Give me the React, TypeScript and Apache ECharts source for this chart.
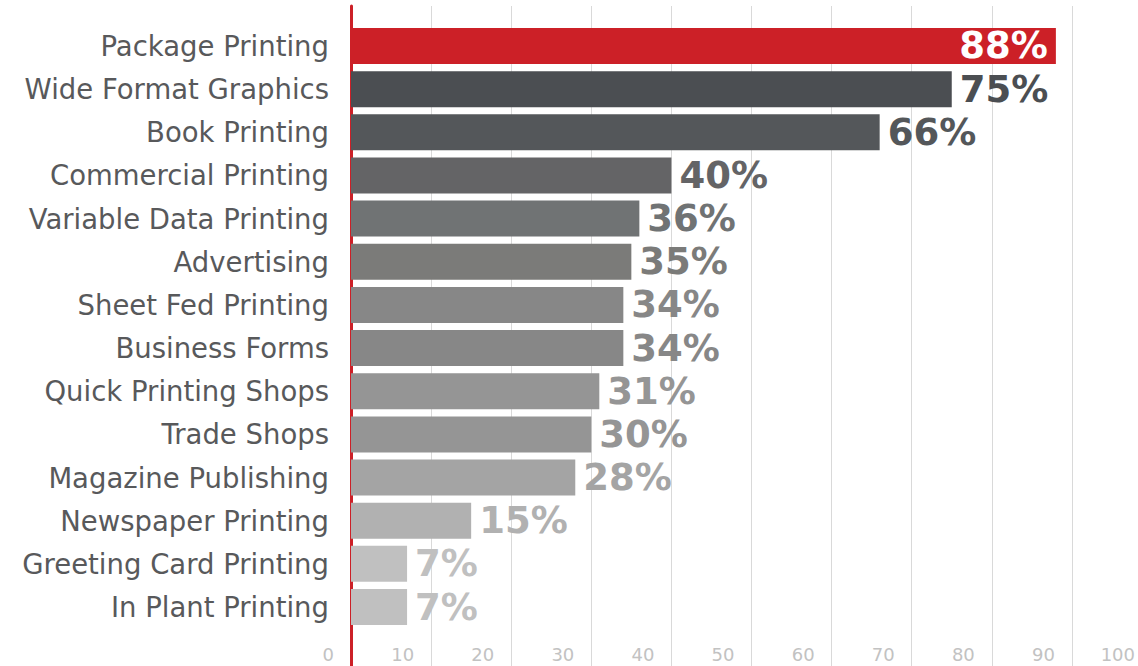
import React, { useEffect, useRef } from "react";
import * as echarts from "echarts";

const categories = [
  "Package Printing",
  "Wide Format Graphics",
  "Book Printing",
  "Commercial Printing",
  "Variable Data Printing",
  "Advertising",
  "Sheet Fed Printing",
  "Business Forms",
  "Quick Printing Shops",
  "Trade Shops",
  "Magazine Publishing",
  "Newspaper Printing",
  "Greeting Card Printing",
  "In Plant Printing",
];

const values = [88, 75, 66, 40, 36, 35, 34, 34, 31, 30, 28, 15, 7, 7];

const barColors = [
  "#CC2027",
  "#4B4E52",
  "#54575A",
  "#646466",
  "#707374",
  "#7B7B79",
  "#878787",
  "#878787",
  "#959595",
  "#959595",
  "#A4A4A4",
  "#B1B1B1",
  "#C0C0C0",
  "#C0C0C0",
];

const xTicks = [0, 10, 20, 30, 40, 50, 60, 70, 80, 90, 100];

export default function App() {
  const ref = useRef<HTMLDivElement>(null);

  useEffect(() => {
    if (!ref.current) return;
    const chart = echarts.init(ref.current, null, { renderer: "svg" });
    const left = 351;
    const width = 801;
    const option: any = {
      animation: false,
      backgroundColor: "#ffffff",
      grid: [
        { left, width, top: 6, bottom: 0, containLabel: false, outerBoundsMode: "none" },
        { left, width, top: 24.4, bottom: 37.4, containLabel: false, outerBoundsMode: "none" },
      ],
      xAxis: [
        {
          gridIndex: 0,
          type: "value",
          min: xTicks[0],
          max: xTicks[xTicks.length - 1],
          interval: 10,
          axisLine: { show: false },
          axisTick: { show: false },
          splitLine: { show: true, lineStyle: { color: "#D9D9D9", width: 1 } },
          axisLabel: {
            show: true,
            inside: true,
            margin: 3,
            align: "right",
            padding: [0, 17, 0, 0],
            color: "#C2C2C2",
            fontSize: 18,
            fontFamily: "DejaVu Sans",
            showMinLabel: true,
            showMaxLabel: true,
          },
        },
        {
          gridIndex: 1,
          type: "value",
          min: 0,
          max: 100,
          show: false,
        },
      ],
      yAxis: [
        {
          gridIndex: 0,
          type: "value",
          min: 0,
          max: 1,
          offset: 1.5,
          axisLine: { show: true, lineStyle: { color: "#CC2027", width: 3 } },
          axisTick: { show: false },
          axisLabel: { show: false },
          splitLine: { show: false },
        },
        {
          gridIndex: 1,
          type: "category",
          inverse: true,
          data: categories,
          axisLine: { show: false },
          axisTick: { show: false },
          splitLine: { show: false },
          axisLabel: {
            margin: 22,
            color: "#58595B",
            fontSize: 27.5,
            fontFamily: "DejaVu Sans",
          },
        },
      ],
      series: [
        {
          type: "bar",
          xAxisIndex: 1,
          yAxisIndex: 1,
          barWidth: 36,
          data: values.map((v, i) => ({
            value: v,
            itemStyle: { color: barColors[i] },
            label:
              i === 0
                ? { position: "insideRight", color: "#ffffff", distance: 8 }
                : { position: "right", color: barColors[i], distance: 8 },
          })),
          label: {
            show: true,
            formatter: "{c}%",
            fontSize: 37,
            fontWeight: "bold",
            fontFamily: "DejaVu Sans",
          },
        },
      ],
    };
    chart.setOption(option);
    return () => chart.dispose();
  }, []);

  return (
    <div
      ref={ref}
      style={{ position: "absolute", left: 0, top: 0, width: 1138, height: 666 }}
    />
  );
}
